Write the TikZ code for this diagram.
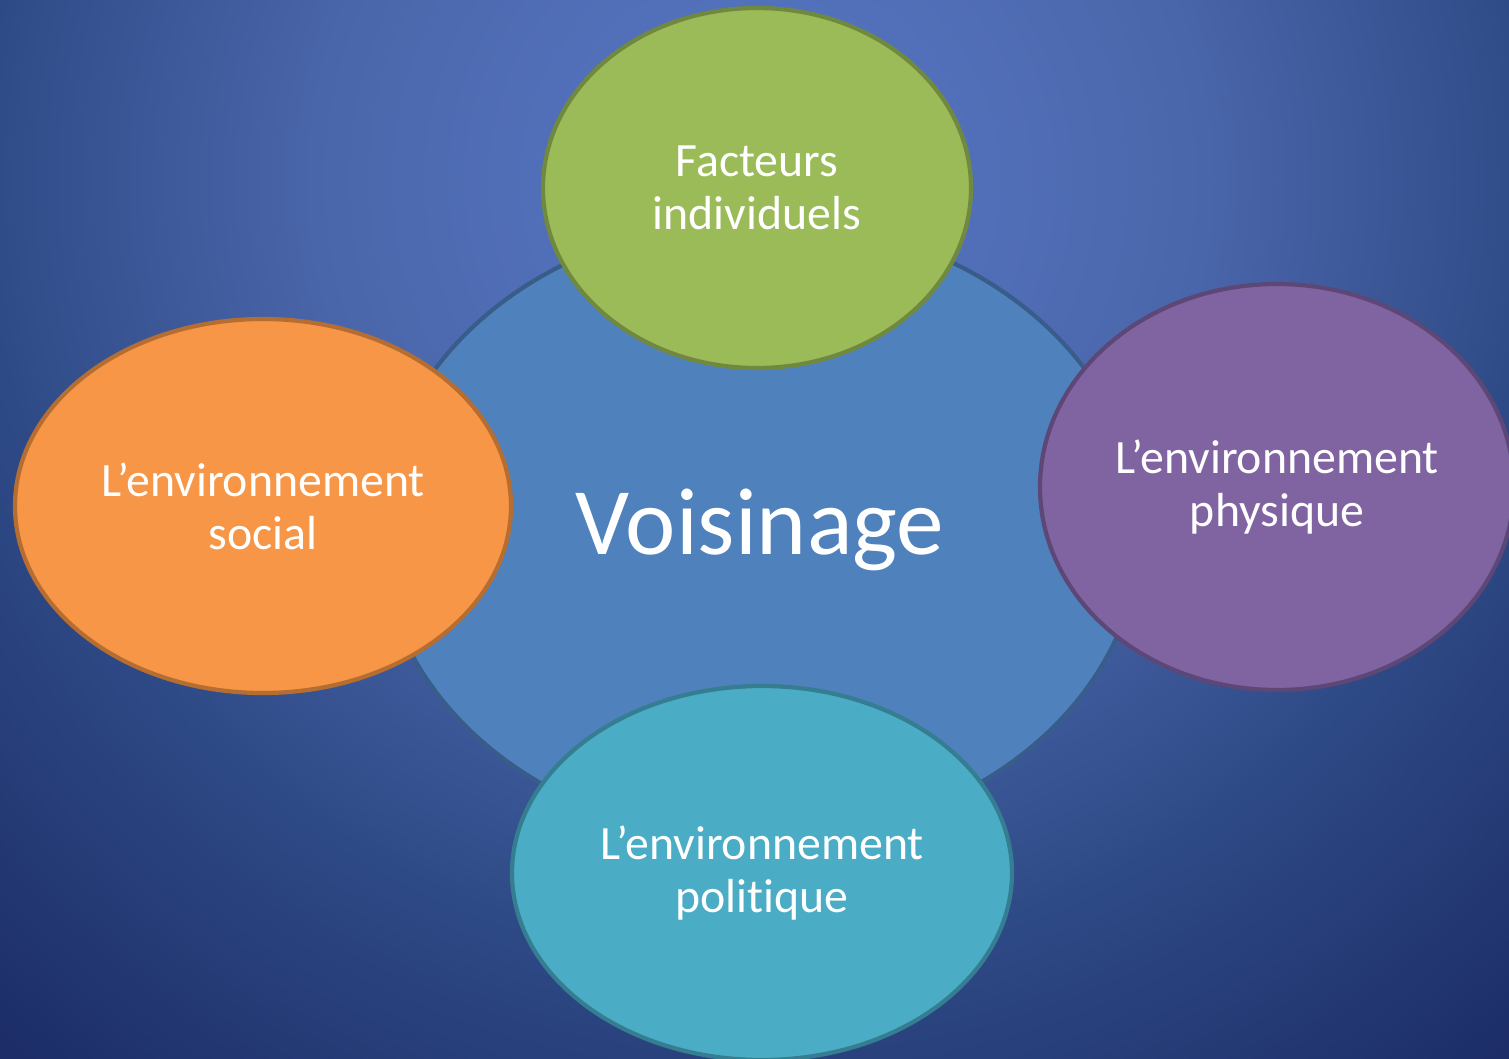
\documentclass[tikz,border=0pt]{standalone}
\usepackage{fontspec}
\setmainfont[Ligatures=NoCommon]{Carlito}
\usetikzlibrary{shapes.geometric}

\definecolor{bginner}{HTML}{5878C6}
\definecolor{bgmid}{HTML}{4A66AA}
\definecolor{bgdark}{HTML}{2E4A86}
\definecolor{bgouter}{HTML}{1C2D68}
\definecolor{bleufond}{HTML}{4F81BD}
\definecolor{bleubord}{HTML}{385D8A}
\definecolor{vertfond}{HTML}{9BBB59}
\definecolor{vertbord}{HTML}{71893F}
\definecolor{orangefond}{HTML}{F79646}
\definecolor{orangebord}{HTML}{B66D31}
\definecolor{violetfond}{HTML}{8064A2}
\definecolor{violetbord}{HTML}{5C4776}
\definecolor{turqfond}{HTML}{4BACC6}
\definecolor{turqbord}{HTML}{357D91}

% 25bp = bord du cercle (rayon 14cm)
\pgfdeclareradialshading{voisbg}{\pgfpoint{0bp}{0bp}}{color(0bp)=(bginner); color(8bp)=(bgmid); color(13.9bp)=(bgdark); color(20.5bp)=(bgouter); color(50bp)=(bgouter)}

\tikzset{
  bulle/.style={ellipse, inner sep=0pt, line width=1.2pt, text=white,
    align=center, font=\fontsize{13.6}{15}\selectfont},
}

\begin{document}
\begin{tikzpicture}
  % fond
  \useasboundingbox (0,0) rectangle (15.09,-10.59);
  \clip (0,0) rectangle (15.09,-10.59);
  \fill[bgouter] (0,0) rectangle (15.09,-10.59);
  \shade[shading=voisbg] (7.6,-1.8) circle (14);

  % cercle central
  \node[bulle, draw=bleubord, fill=bleufond, minimum width=7.6cm, minimum height=6.2cm,
    font=\fontsize{27.1}{30}\selectfont] (voisinage) at (7.6,-5.3) {Voisinage};

  % les quatre facteurs
  \node[bulle, draw=vertbord, fill=vertfond, minimum width=4.28cm, minimum height=3.6cm]
    (individuels) at (7.57,-1.88) {Facteurs\\individuels};
  \node[bulle, draw=orangebord, fill=orangefond, minimum width=4.96cm, minimum height=3.74cm]
    (social) at (2.63,-5.06) {L’environnement\\social};
  \node[bulle, draw=violetbord, fill=violetfond, minimum width=4.74cm, minimum height=4.06cm]
    (physique) at (12.77,-4.87) {L’environnement\\physique};
  \node[bulle, draw=turqbord, fill=turqfond, minimum width=5.0cm, minimum height=3.74cm]
    (politique) at (7.62,-8.73) {L’environnement\\politique};
\end{tikzpicture}
\end{document}
